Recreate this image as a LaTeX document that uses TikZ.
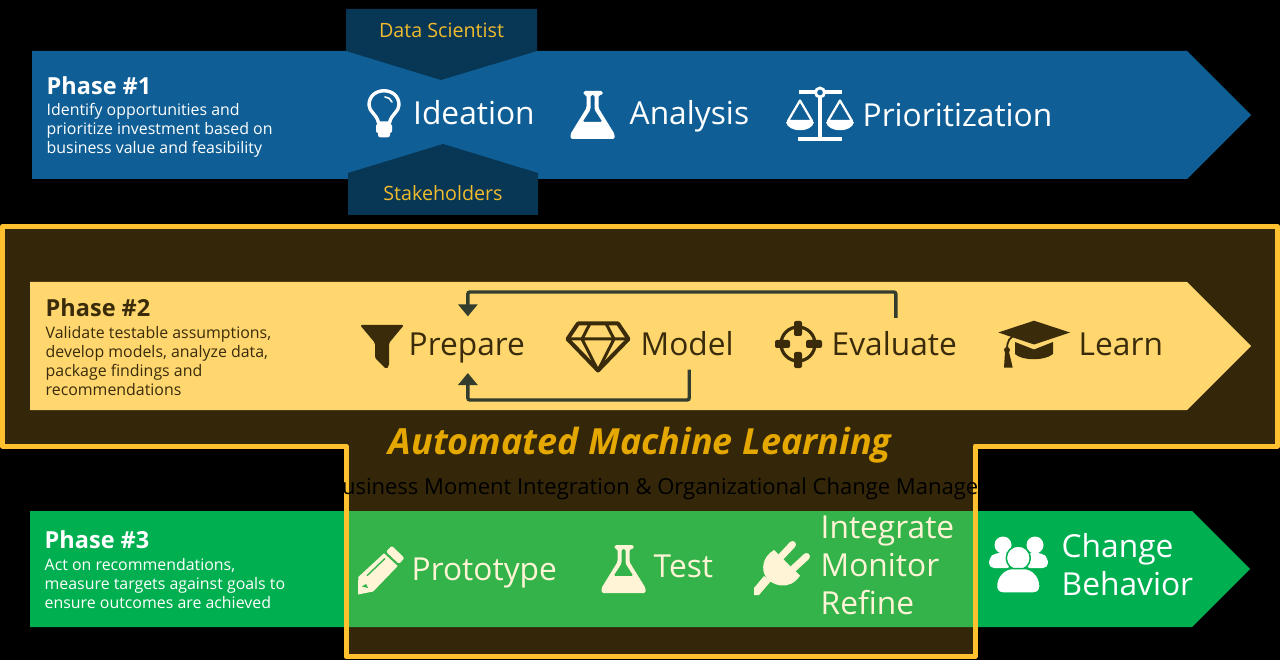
\documentclass[tikz,border=0pt]{standalone}
\usepackage{fontspec}
\setmainfont{Open Sans}
\usetikzlibrary{arrows.meta}
\definecolor{bluea}{HTML}{0F5F96}
\definecolor{banner}{HTML}{083655}
\definecolor{bannertext}{HTML}{F0BC2D}
\definecolor{yellowa}{HTML}{FFD76E}
\definecolor{greena}{HTML}{00B050}
\definecolor{band}{HTML}{FFC12D}
\definecolor{darktext}{HTML}{3A2C0B}
\definecolor{loopc}{HTML}{333D2E}
\definecolor{automl}{HTML}{E5A800}
\definecolor{cream}{HTML}{FFF4D5}
\definecolor{overgreen}{HTML}{33B54C}
\tikzset{
  x=1pt,y=-1pt,
  txt/.style={inner sep=0pt,anchor=base west,font=\fontsize{31.7}{38}\selectfont},
  phasehead/.style={inner sep=0pt,anchor=base west,font=\fontsize{23.5}{26}\bfseries\selectfont},
  phasedesc/.style={inner sep=0pt,anchor=north west,align=left,font=\fontsize{15.9}{19}\selectfont},
  bannerlabel/.style={inner sep=0pt,text=bannertext,font=\fontsize{19.7}{24}\selectfont},
  loopline/.style={draw=loopc,line width=3.4pt,rounded corners=2pt,-{Triangle[width=19pt,length=12pt]}},
  flask/.pic={
    \fill[pic actions,even odd rule,rounded corners=1.5pt]
      (-9,0)--(10,0)--(10,4)--(6,4)--(6,17)--(22,43)--(22,48)--(-22,48)--(-22,43)--(-6,17)--(-6,4)--(-9,4)--cycle
      (-2,4)--(2,4)--(2,18.5)--(10,31)--(-10,31)--(-2,18.5)--cycle;
  }
}
\begin{document}
\begin{tikzpicture}
\useasboundingbox (0,0) rectangle (1280,660);
\fill[black] (0,0) rectangle (1280,660);
% phase 1
\fill[bluea] (32,51)--(1187,51)--(1251,115)--(1187,179)--(32,179)--cycle;
\fill[banner] (346,9)--(537,9)--(537,51)--(441,80)--(346,51)--cycle;
\fill[banner] (348,173)--(443,144)--(538,173)--(538,215)--(348,215)--cycle;
\node[bannerlabel] (ds) at (441.5,30) {Data Scientist};
\node[bannerlabel] (sh) at (443,193) {Stakeholders};
\node[phasehead,text=white] (p1) at (46.5,94.5) {Phase \#1};
\node[phasedesc,text=white] (p1d) at (46.5,103) {Identify opportunities and\\prioritize investment based on\\business value and feasibility};
% bulb
\draw[white,line width=3.4pt,line join=round] (378.5,123) .. controls (377,114) and (369,112) .. (369,105)
  .. controls (369,86) and (399,86) .. (399,105) .. controls (399,112) and (391,114) .. (389.5,123) -- cycle;
\draw[white,line width=1.6pt,line cap=round] (385,97) .. controls (388,97) and (391,99) .. (392,102);
\fill[white,rounded corners=2pt] (376,124) rectangle (392,133);
\fill[white,rounded corners=2.5pt] (378,131) rectangle (390,137.5);
\node[txt,text=white] (ideation) at (413,125) {Ideation};
\path (592.5,91) pic[white] {flask};
\node[txt,text=white] (analysis) at (629.5,125) {Analysis};
% scales
\fill[white] (799,90.5) rectangle (842,94);
\fill[white] (818.3,92) rectangle (821.7,139);
\fill[white] (798,137.3) rectangle (842,140.7);
\fill[bluea,draw=white,line width=2.8pt] (820,92.5) circle (4.5);
\draw[white,line width=2.2pt,line join=round] (800,100.5)--(788,121)--(812,121)--cycle;
\draw[white,line width=2.2pt,line join=round] (840,100.5)--(828,121)--(852,121)--cycle;
\fill[white] (786,122) .. controls (788,133) and (812,133) .. (814,122) -- cycle;
\fill[white] (826,122) .. controls (828,133) and (852,133) .. (854,122) -- cycle;
\node[txt,text=white] (prior) at (862.5,126.5) {Prioritization};
% phase 3
\fill[greena] (30,511)--(1192,511)--(1250,569)--(1192,627)--(30,627)--cycle;
\node[phasehead,text=white] (p3) at (44.5,548.5) {Phase \#3};
\node[phasedesc,text=white] (p3d) at (44.5,558) {Act on recommendations,\\measure targets against goals to\\ensure outcomes are achieved};
% people
\fill[white] (1003,545) circle (8.5);
\fill[white] (1035,545) circle (8.5);
\fill[white,rounded corners=5pt] (989,568)--(989,558)--(995,553)--(1012,553)--(1012,568)--cycle;
\fill[white,rounded corners=5pt] (1048,568)--(1048,558)--(1042,553)--(1025,553)--(1025,568)--cycle;
\fill[white,draw=greena,line width=1.5pt] (1018.3,558) circle (12);
\fill[white,draw=greena,line width=1.5pt,rounded corners=6pt] (996.5,593)--(996.5,579)--(1006,568.5)--(1030.5,568.5)--(1040,579)--(1040,593)--cycle;
\node[txt,text=white] (change) at (1061.5,557) {Change};
\node[txt,text=white] (behavior) at (1061.5,595) {Behavior};
% automated ML overlay
\draw[draw=band,line width=5pt,fill=band,fill opacity=.2,line join=round]
  (2.5,226.5)--(1277.5,226.5)--(1277.5,446)--(975,446)--(975,656.5)--(346,656.5)--(346,446)--(2.5,446)--cycle;
% phase 2
\fill[yellowa] (30,282)--(1187,282)--(1251,346)--(1187,410)--(30,410)--cycle;
\node[phasehead,text=darktext] (p2) at (45.5,316.5) {Phase \#2};
\node[phasedesc,text=darktext] (p2d) at (45.5,326) {Validate testable assumptions,\\develop models, analyze data,\\package findings and\\recommendations};
% funnel
\fill[darktext,rounded corners=1.5pt] (360,325)--(404,325)--(389,343)--(389,366)--(386,369)--(375,358)--(375,343)--cycle;
\node[txt,text=darktext] (prepare) at (408.5,355.2) {Prepare};
% diamond
\draw[darktext,line width=4pt,line join=round] (578,323.5)--(618,323.5)--(628.5,339)--(598,370.5)--(567.5,339)--cycle;
\draw[darktext,line width=3pt,line join=round] (567.5,339)--(628.5,339) (590,323.5)--(582,339)--(598,370.5)--(614,339)--(606,323.5);
\node[txt,text=darktext] (model) at (640.5,355.2) {Model};
% crosshair
\draw[darktext,line width=3.2pt] (798,344) circle (17);
\fill[darktext,rounded corners=2pt] (794,321) rectangle (802,336);
\fill[darktext,rounded corners=2pt] (794,352) rectangle (802,368);
\fill[darktext,rounded corners=2pt] (775,340) rectangle (790,348);
\fill[darktext,rounded corners=2pt] (806,340) rectangle (822,348);
\node[txt,text=darktext] (evaluate) at (831.5,355.2) {Evaluate};
% cap
\fill[darktext] (1034,320.7)--(1070,332.5)--(1034,344.5)--(998.3,332.5)--cycle;
\fill[darktext] (1015,342)--(1034,349.5)--(1053,342)--(1053,354) .. controls (1045,361) and (1022,361) .. (1015,354)--cycle;
\draw[darktext,line width=1.8pt] (1016,335) .. controls (1010,337) and (1007,340) .. (1007,350);
\fill[darktext] (1007,350) circle (3);
\fill[darktext] (1005,352)--(1009,352)--(1012.7,367.5)--(1004,367.5)--cycle;
\node[txt,text=darktext] (learn) at (1078.5,355.2) {Learn};
% loops
\coordinate (evalstart) at ([yshift=13pt,xshift=1.5pt]evaluate.north);
\coordinate (prepup) at ([yshift=16pt,xshift=1pt]prepare.north);
\coordinate (modelstart) at ([xshift=2pt,yshift=-14pt]model.south);
\coordinate (prepdown) at ([xshift=1pt,yshift=-10pt]prepare.south);
\coordinate (toprail) at (0,292);
\coordinate (botrail) at (0,400);
\draw[loopline] (evalstart) -- (evalstart |- toprail) -- (prepup |- toprail) -- (prepup);
\draw[loopline] (modelstart) -- (modelstart |- botrail) -- (prepdown |- botrail) -- (prepdown);
% automl text
\node[inner sep=0pt,anchor=base,text=automl,font=\fontsize{36}{42}\bfseries\itshape\selectfont] (aml) at (640,454) {Automated Machine Learning};
\node[inner sep=0pt,anchor=base,text=black,font=\fontsize{22}{26}\selectfont] (biz) at (680,494) {Business Moment Integration \& Organizational Change Management};
% overlaid phase 3 items
% pencil
\fill[cream,rounded corners=2pt] (386,551.7)--(391.7,545.7)--(404.5,558)--(399,564)--cycle;
\fill[cream] (384,553.3)--(397.7,566)--(373.2,591.5)--(358,594.5)--(358.3,577)--cycle;
\draw[overgreen,line width=1.4pt] (367,575.7)--(385,558.5);
\fill[overgreen] (362,586.5)--(366,584)--(368,588)--cycle;
\node[txt,text=cream] (proto) at (411.5,580) {Prototype};
\path (623.5,545) pic[cream] {flask};
\node[txt,text=cream] (test) at (653.5,577) {Test};
% plug
\fill[cream] (774,550) .. controls (762,557) and (761,570) .. (766,577) .. controls (771,585) and (789,592) .. (800,575.7)--cycle;
\draw[cream,line width=7pt,line cap=round] (778,560)--(792.5,544.5);
\draw[cream,line width=7pt,line cap=round] (790,571.7)--(806.5,556.5);
\fill[cream] (764,576)--(771,581)--(759,595)--(754,595)--(754,588)--cycle;
\node[txt,text=cream] (int) at (820.5,538) {Integrate};
\node[txt,text=cream] (mon) at (820.5,576) {Monitor};
\node[txt,text=cream] (ref) at (820.5,614) {Refine};
\end{tikzpicture}
\end{document}
